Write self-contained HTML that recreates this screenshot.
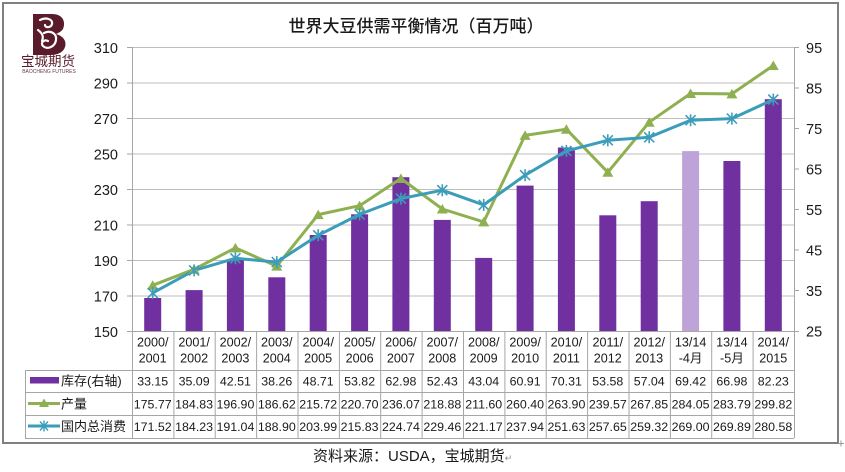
<!DOCTYPE html>
<html><head><meta charset="utf-8"><style>
html,body{margin:0;padding:0;background:#fff;}
svg{display:block;}
text{font-family:"Liberation Sans","Noto Sans CJK SC",sans-serif;}
</style></head><body>
<svg width="845" height="472" viewBox="0 0 845 472" xmlns="http://www.w3.org/2000/svg">
<rect x="0" y="0" width="845" height="472" fill="#fff"/>
<rect x="3" y="3" width="835" height="440" fill="none" stroke="#808080" stroke-width="2"/>

<!-- logo -->
<g fill="#5a1c2c">
  <path d="M33 14 H52 C63 14 66 22 63 29 C61 32 58 33 56 34 C63 36 67 41 65 47 C63 53 57 55 50 55 H33 Z"/>
</g>
<g fill="none" stroke="#fff" stroke-width="2.2" stroke-linecap="round">
  <path d="M40 20 C46 17 53 19 52 24 C51 28 45 28 45 25"/>
  <path d="M44 33 C50 30 57 33 56 40 C55 47 47 50 43 46 C40 43 44 39 48 41"/>
  <path d="M38 30 C42 33 44 36 42 41"/>
</g>
<text x="48" y="66" font-size="13.5" fill="#5a1c2c" text-anchor="middle" font-family="'Noto Serif CJK SC','Liberation Serif',serif">宝城期货</text>
<text x="49" y="73" font-size="5" fill="#6a3a46" text-anchor="middle">BAOCHENG FUTURES</text>

<!-- title -->
<text x="416" y="32" font-size="17" fill="#1a1a1a" text-anchor="middle" font-weight="500" font-family="'Liberation Sans','Noto Sans CJK SC',sans-serif">世界大豆供需平衡情况（百万吨）</text>

<!-- gridlines -->
<g stroke="#bdbdbd" stroke-width="1">
  <line x1="132" y1="47.5" x2="794" y2="47.5"/>
  <line x1="132" y1="83" x2="794" y2="83"/>
  <line x1="132" y1="118.5" x2="794" y2="118.5"/>
  <line x1="132" y1="154" x2="794" y2="154"/>
  <line x1="132" y1="189.5" x2="794" y2="189.5"/>
  <line x1="132" y1="225" x2="794" y2="225"/>
  <line x1="132" y1="260.5" x2="794" y2="260.5"/>
  <line x1="132" y1="296" x2="794" y2="296"/>
</g>
<!-- ticks -->
<g stroke="#a6a6a6" stroke-width="1">
  <line x1="127" y1="47.5" x2="132" y2="47.5"/><line x1="127" y1="83" x2="132" y2="83"/>
  <line x1="127" y1="118.5" x2="132" y2="118.5"/><line x1="127" y1="154" x2="132" y2="154"/>
  <line x1="127" y1="189.5" x2="132" y2="189.5"/><line x1="127" y1="225" x2="132" y2="225"/>
  <line x1="127" y1="260.5" x2="132" y2="260.5"/><line x1="127" y1="296" x2="132" y2="296"/>
  <line x1="127" y1="331.5" x2="132" y2="331.5"/>
  <line x1="794" y1="47.5" x2="799" y2="47.5"/><line x1="794" y1="88" x2="799" y2="88"/>
  <line x1="794" y1="128.5" x2="799" y2="128.5"/><line x1="794" y1="169" x2="799" y2="169"/>
  <line x1="794" y1="209.5" x2="799" y2="209.5"/><line x1="794" y1="250" x2="799" y2="250"/>
  <line x1="794" y1="290.5" x2="799" y2="290.5"/>
  <line x1="794" y1="331.5" x2="799" y2="331.5"/>
  <line x1="132.5" y1="47" x2="132.5" y2="438"/>
  <line x1="794.5" y1="47" x2="794.5" y2="438"/>
</g>

<!-- left axis labels -->
<g font-size="14.5" fill="#1a1a1a" text-anchor="end">
  <text x="118" y="53">310</text><text x="118" y="88.5">290</text>
  <text x="118" y="124">270</text><text x="118" y="159.5">250</text>
  <text x="118" y="195">230</text><text x="118" y="230.5">210</text>
  <text x="118" y="266">190</text><text x="118" y="301.5">170</text>
  <text x="118" y="337">150</text>
</g>
<!-- right axis labels -->
<g font-size="14.5" fill="#1a1a1a" text-anchor="start">
  <text x="806" y="53">95</text><text x="806" y="93.5">85</text>
  <text x="806" y="134">75</text><text x="806" y="174.5">65</text>
  <text x="806" y="215">55</text><text x="806" y="255.5">45</text>
  <text x="806" y="296">35</text><text x="806" y="336.5">25</text>
</g>

<!-- bars -->
<g fill="#7030a0">
  <rect x="144.2" y="298" width="17" height="33"/>
  <rect x="185.6" y="290.1" width="17" height="40.9"/>
  <rect x="226.9" y="260.1" width="17" height="70.9"/>
  <rect x="268.3" y="277.3" width="17" height="53.7"/>
  <rect x="309.7" y="235" width="17" height="96"/>
  <rect x="351.1" y="214.3" width="17" height="116.7"/>
  <rect x="392.4" y="177.2" width="17" height="153.8"/>
  <rect x="433.8" y="219.9" width="17" height="111.1"/>
  <rect x="475.2" y="257.9" width="17" height="73.1"/>
  <rect x="516.6" y="185.6" width="17" height="145.4"/>
  <rect x="557.9" y="147.5" width="17" height="183.5"/>
  <rect x="599.3" y="215.3" width="17" height="115.7"/>
  <rect x="640.7" y="201.2" width="17" height="129.8"/>
  <rect x="682.1" y="151.1" width="17" height="179.9" fill="#bea3d9"/>
  <rect x="723.4" y="161" width="17" height="170"/>
  <rect x="764.8" y="99.2" width="17" height="231.8"/>
</g>
<line x1="132" y1="331.5" x2="794" y2="331.5" stroke="#a6a6a6" stroke-width="1"/>

<!-- production line -->
<polyline fill="none" stroke="#8fb050" stroke-width="3" stroke-linejoin="round"
 points="152.7,285.3 194.1,269.3 235.4,247.9 276.8,266.1 318.2,214.6 359.6,205.7 400.9,178.5 442.3,209 483.7,221.9 525.1,135.4 566.4,129.2 607.8,172.3 649.2,122.2 690.6,93.5 731.9,93.9 773.3,65.5"/>
<!-- consumption line -->
<polyline fill="none" stroke="#3c9dba" stroke-width="3" stroke-linejoin="round"
 points="152.7,292.9 194.1,270.4 235.4,258.3 276.8,262.1 318.2,235.3 359.6,214.4 400.9,198.6 442.3,190.2 483.7,204.9 525.1,175.2 566.4,150.9 607.8,140.3 649.2,137.3 690.6,120.2 731.9,118.6 773.3,99.6"/>

<!-- triangle markers -->
<g fill="#8fb050">
  <path d="M152.7,280.3 l5.5,9.5 h-11 z"/>
  <path d="M194.1,264.3 l5.5,9.5 h-11 z"/>
  <path d="M235.4,242.9 l5.5,9.5 h-11 z"/>
  <path d="M276.8,261.1 l5.5,9.5 h-11 z"/>
  <path d="M318.2,209.6 l5.5,9.5 h-11 z"/>
  <path d="M359.6,200.7 l5.5,9.5 h-11 z"/>
  <path d="M400.9,173.5 l5.5,9.5 h-11 z"/>
  <path d="M442.3,204 l5.5,9.5 h-11 z"/>
  <path d="M483.7,216.9 l5.5,9.5 h-11 z"/>
  <path d="M525.1,130.4 l5.5,9.5 h-11 z"/>
  <path d="M566.4,124.2 l5.5,9.5 h-11 z"/>
  <path d="M607.8,167.3 l5.5,9.5 h-11 z"/>
  <path d="M649.2,117.2 l5.5,9.5 h-11 z"/>
  <path d="M690.6,88.5 l5.5,9.5 h-11 z"/>
  <path d="M731.9,88.9 l5.5,9.5 h-11 z"/>
  <path d="M773.3,60.5 l5.5,9.5 h-11 z"/>
</g>
<!-- star markers -->
<defs>
  <g id="st"><path d="M-5,-5 L5,5 M-5,5 L5,-5 M0,-6 L0,6" stroke="#3c9dba" stroke-width="1.6" fill="none"/></g>
</defs>
<use href="#st" x="152.7" y="292.9"/><use href="#st" x="194.1" y="270.4"/>
<use href="#st" x="235.4" y="258.3"/><use href="#st" x="276.8" y="262.1"/>
<use href="#st" x="318.2" y="235.3"/><use href="#st" x="359.6" y="214.4"/>
<use href="#st" x="400.9" y="198.6"/><use href="#st" x="442.3" y="190.2"/>
<use href="#st" x="483.7" y="204.9"/><use href="#st" x="525.1" y="175.2"/>
<use href="#st" x="566.4" y="150.9"/><use href="#st" x="607.8" y="140.3"/>
<use href="#st" x="649.2" y="137.3"/><use href="#st" x="690.6" y="120.2"/>
<use href="#st" x="731.9" y="118.6"/><use href="#st" x="773.3" y="99.6"/>

<!-- table grid -->
<g stroke="#a6a6a6" stroke-width="1">
  <line x1="25" y1="370.5" x2="794" y2="370.5"/>
  <line x1="25" y1="392.5" x2="794" y2="392.5"/>
  <line x1="25" y1="415.5" x2="794" y2="415.5"/>
  <line x1="25" y1="438.5" x2="794" y2="438.5"/>
  <line x1="25.5" y1="370" x2="25.5" y2="438"/>
  <line x1="173.9" y1="331" x2="173.9" y2="438"/>
  <line x1="215.2" y1="331" x2="215.2" y2="438"/>
  <line x1="256.6" y1="331" x2="256.6" y2="438"/>
  <line x1="298" y1="331" x2="298" y2="438"/>
  <line x1="339.4" y1="331" x2="339.4" y2="438"/>
  <line x1="380.7" y1="331" x2="380.7" y2="438"/>
  <line x1="422.1" y1="331" x2="422.1" y2="438"/>
  <line x1="463.5" y1="331" x2="463.5" y2="438"/>
  <line x1="504.9" y1="331" x2="504.9" y2="438"/>
  <line x1="546.2" y1="331" x2="546.2" y2="438"/>
  <line x1="587.6" y1="331" x2="587.6" y2="438"/>
  <line x1="629" y1="331" x2="629" y2="438"/>
  <line x1="670.4" y1="331" x2="670.4" y2="438"/>
  <line x1="711.7" y1="331" x2="711.7" y2="438"/>
  <line x1="753.1" y1="331" x2="753.1" y2="438"/>
</g>

<!-- header -->
<g font-size="12.6" fill="#1a1a1a" text-anchor="middle">
  <text x="152.7" y="346.5">2000/</text><text x="152.7" y="362.5">2001</text>
  <text x="194.1" y="346.5">2001/</text><text x="194.1" y="362.5">2002</text>
  <text x="235.4" y="346.5">2002/</text><text x="235.4" y="362.5">2003</text>
  <text x="276.8" y="346.5">2003/</text><text x="276.8" y="362.5">2004</text>
  <text x="318.2" y="346.5">2004/</text><text x="318.2" y="362.5">2005</text>
  <text x="359.6" y="346.5">2005/</text><text x="359.6" y="362.5">2006</text>
  <text x="400.9" y="346.5">2006/</text><text x="400.9" y="362.5">2007</text>
  <text x="442.3" y="346.5">2007/</text><text x="442.3" y="362.5">2008</text>
  <text x="483.7" y="346.5">2008/</text><text x="483.7" y="362.5">2009</text>
  <text x="525.1" y="346.5">2009/</text><text x="525.1" y="362.5">2010</text>
  <text x="566.4" y="346.5">2010/</text><text x="566.4" y="362.5">2011</text>
  <text x="607.8" y="346.5">2011/</text><text x="607.8" y="362.5">2012</text>
  <text x="649.2" y="346.5">2012/</text><text x="649.2" y="362.5">2013</text>
  <text x="690.6" y="346.5">13/14</text><text x="690.6" y="362.5">-4月</text>
  <text x="731.9" y="346.5">13/14</text><text x="731.9" y="362.5">-5月</text>
  <text x="773.3" y="346.5">2014/</text><text x="773.3" y="362.5">2015</text>
</g>

<!-- legend col -->
<rect x="30" y="377" width="29" height="6.5" fill="#7030a0"/>
<line x1="28" y1="403.5" x2="60" y2="403.5" stroke="#8fb050" stroke-width="3"/>
<path d="M44,398.5 l5,8.5 h-10 z" fill="#8fb050"/>
<line x1="28" y1="426" x2="60" y2="426" stroke="#3c9dba" stroke-width="3"/>
<path d="M40,421.5 L48,430.5 M40,430.5 L48,421.5 M44,420.5 L44,431.5" stroke="#3c9dba" stroke-width="1.4" fill="none"/>
<g font-size="13" fill="#1a1a1a">
  <text x="61" y="385.5">库存(右轴)</text>
  <text x="61" y="408.5">产量</text>
  <text x="61" y="431">国内总消费</text>
</g>

<!-- values -->
<g font-size="12.4" fill="#1a1a1a" text-anchor="middle">
  <text x="152.7" y="385.5">33.15</text><text x="194.1" y="385.5">35.09</text>
  <text x="235.4" y="385.5">42.51</text><text x="276.8" y="385.5">38.26</text>
  <text x="318.2" y="385.5">48.71</text><text x="359.6" y="385.5">53.82</text>
  <text x="400.9" y="385.5">62.98</text><text x="442.3" y="385.5">52.43</text>
  <text x="483.7" y="385.5">43.04</text><text x="525.1" y="385.5">60.91</text>
  <text x="566.4" y="385.5">70.31</text><text x="607.8" y="385.5">53.58</text>
  <text x="649.2" y="385.5">57.04</text><text x="690.6" y="385.5">69.42</text>
  <text x="731.9" y="385.5">66.98</text><text x="773.3" y="385.5">82.23</text>

  <text x="152.7" y="408.5">175.77</text><text x="194.1" y="408.5">184.83</text>
  <text x="235.4" y="408.5">196.90</text><text x="276.8" y="408.5">186.62</text>
  <text x="318.2" y="408.5">215.72</text><text x="359.6" y="408.5">220.70</text>
  <text x="400.9" y="408.5">236.07</text><text x="442.3" y="408.5">218.88</text>
  <text x="483.7" y="408.5">211.60</text><text x="525.1" y="408.5">260.40</text>
  <text x="566.4" y="408.5">263.90</text><text x="607.8" y="408.5">239.57</text>
  <text x="649.2" y="408.5">267.85</text><text x="690.6" y="408.5">284.05</text>
  <text x="731.9" y="408.5">283.79</text><text x="773.3" y="408.5">299.82</text>

  <text x="152.7" y="431">171.52</text><text x="194.1" y="431">184.23</text>
  <text x="235.4" y="431">191.04</text><text x="276.8" y="431">188.90</text>
  <text x="318.2" y="431">203.99</text><text x="359.6" y="431">215.83</text>
  <text x="400.9" y="431">224.74</text><text x="442.3" y="431">229.46</text>
  <text x="483.7" y="431">221.17</text><text x="525.1" y="431">237.94</text>
  <text x="566.4" y="431">251.63</text><text x="607.8" y="431">257.65</text>
  <text x="649.2" y="431">259.32</text><text x="690.6" y="431">269.00</text>
  <text x="731.9" y="431">269.89</text><text x="773.3" y="431">280.58</text>
</g>

<!-- corner mark -->
<path d="M838,443.5 H844 M841,440.5 V446.5" stroke="#999" stroke-width="1"/>

<!-- source -->
<text x="313" y="461" font-size="15" fill="#1a1a1a">资料来源：USDA，宝城期货<tspan font-size="9" fill="#888">↵</tspan></text>
</svg>
</body></html>
